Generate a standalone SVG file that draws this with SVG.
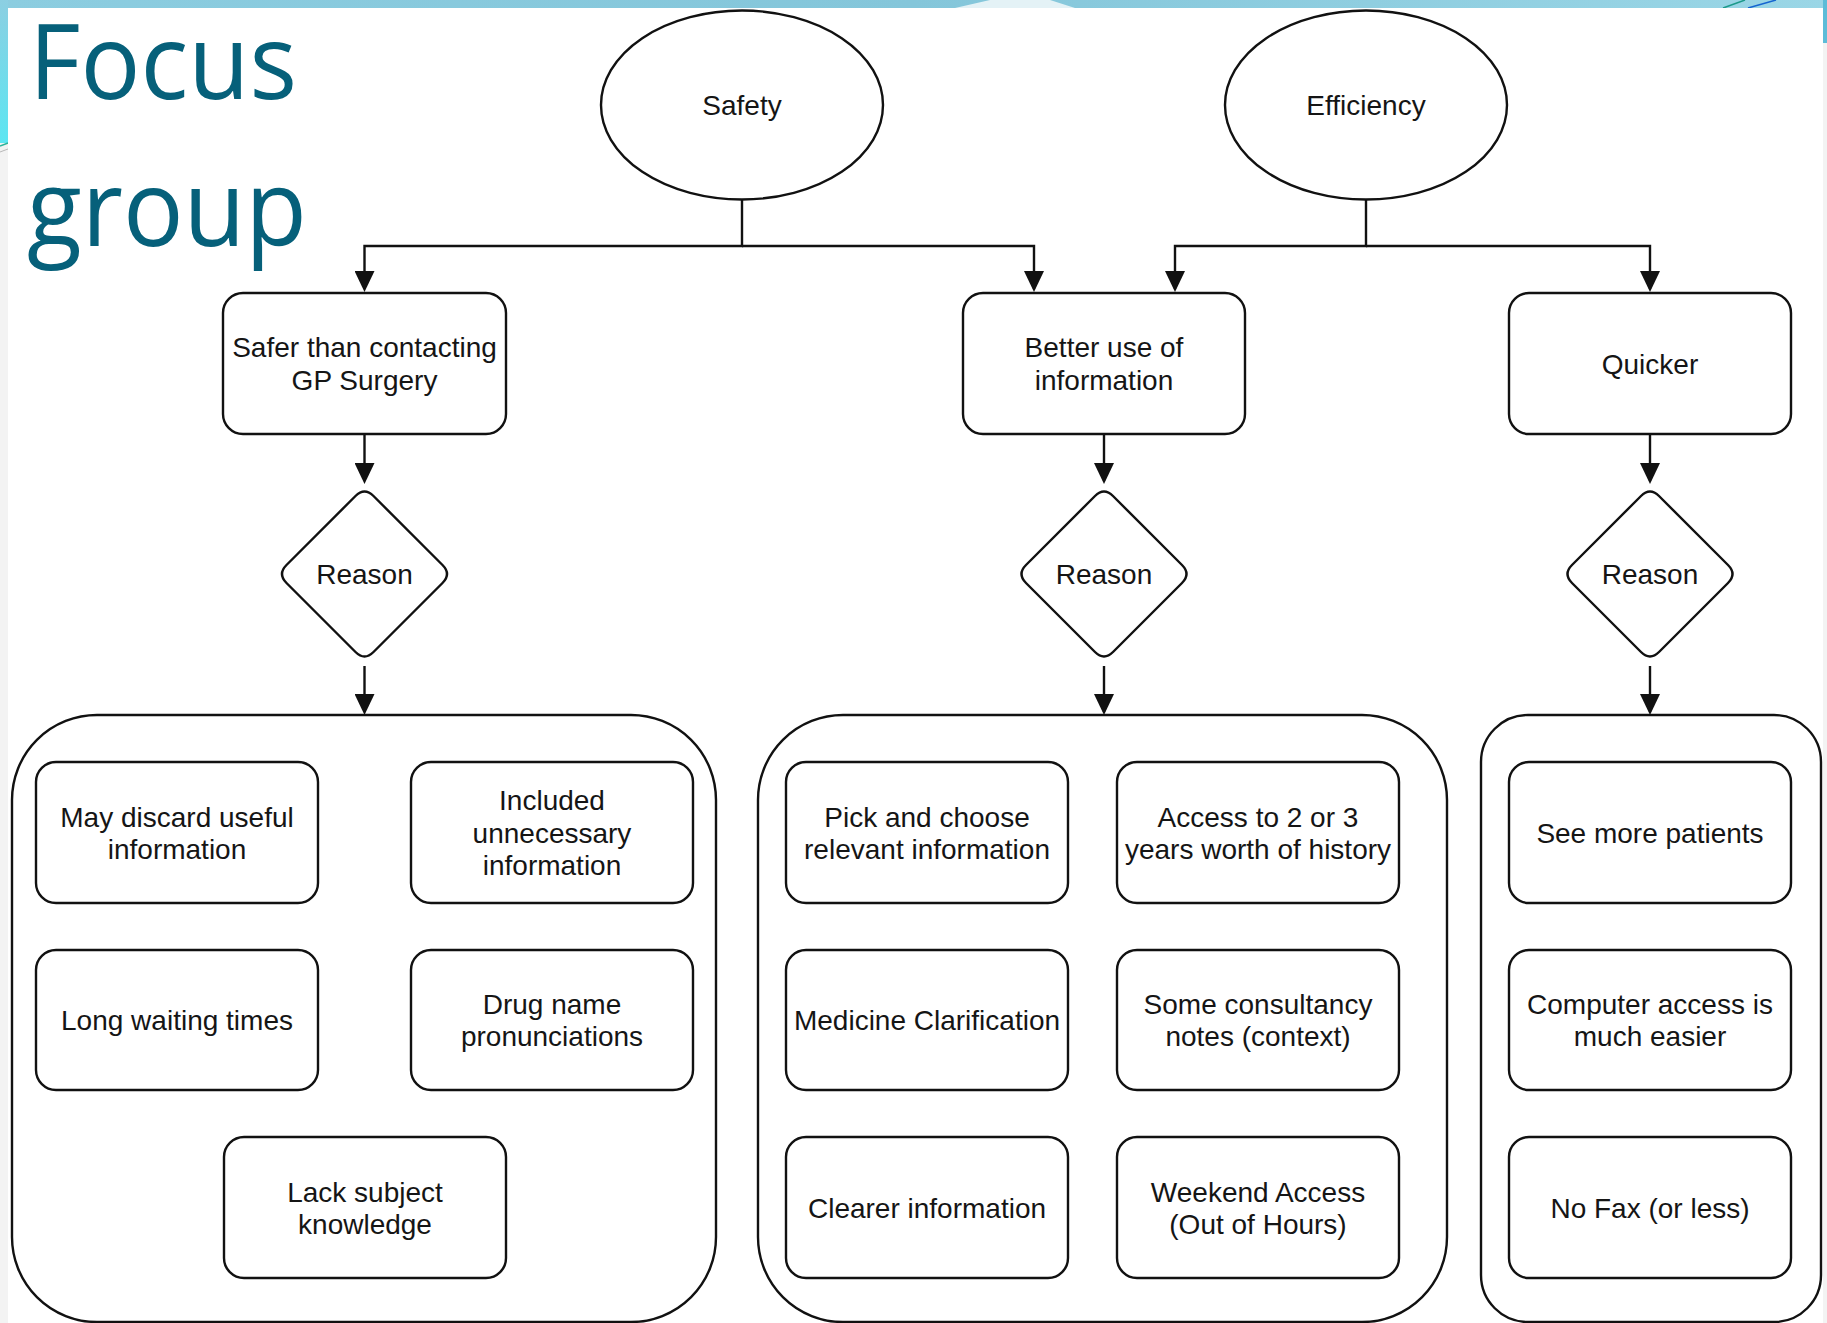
<svg xmlns="http://www.w3.org/2000/svg" width="1827" height="1323" viewBox="0 0 1827 1323">
<defs>
<style>
.box{fill:#fff;stroke:#111;stroke-width:2.4}
.cont{fill:#fff;stroke:#111;stroke-width:2.4}
.t{font-family:"Liberation Sans",Arial,Helvetica,sans-serif;font-size:28px;fill:#151515;text-anchor:middle}
.edge{fill:none;stroke:#111;stroke-width:2.4}
.title{font-family:"Open Sans","Noto Sans",sans-serif;fill:#06607a}
</style>
<marker id="arr" markerUnits="userSpaceOnUse" markerWidth="22" markerHeight="20" refX="18" refY="10" orient="auto">
<path d="M0,0 L21,10 L0,20 Z" fill="#111"/>
</marker>
<linearGradient id="leftg" x1="0" y1="0" x2="0" y2="1">
<stop offset="0" stop-color="#8ccfe2"/>
<stop offset="1" stop-color="#5ce6f2"/>
</linearGradient>
<linearGradient id="topg" x1="0" y1="0" x2="1" y2="0">
<stop offset="0" stop-color="#8ccde0"/>
<stop offset="0.5" stop-color="#84c6da"/>
<stop offset="1" stop-color="#9ad6e6"/>
</linearGradient>
</defs>

<!-- slide background -->
<rect x="0" y="0" width="1827" height="1323" fill="#f3f3f3"/>
<rect x="0" y="0" width="1827" height="8" fill="url(#topg)"/>
<polygon points="955,8 990,0 1050,0 1075,8" fill="#e4f2f6"/>
<rect x="0" y="0" width="8" height="143" fill="url(#leftg)"/>
<line x1="0" y1="146" x2="8" y2="143" stroke="#2bb39a" stroke-width="1.5"/>
<line x1="0" y1="152" x2="8" y2="149" stroke="#b8b8b8" stroke-width="1"/>
<rect x="1823" y="0" width="4" height="43" fill="#5cbcd8"/>
<line x1="1723" y1="8" x2="1745" y2="0" stroke="#1c9a8a" stroke-width="1.5"/>
<line x1="1748" y1="8" x2="1776" y2="0" stroke="#1565d0" stroke-width="1.5"/>
<rect x="8" y="8" width="1815" height="1315" fill="#fff"/>

<!-- title -->
<text class="title" x="29" y="99" font-size="104" textLength="268" lengthAdjust="spacingAndGlyphs">Focus</text>
<text class="title" x="27" y="246" font-size="106" textLength="280" lengthAdjust="spacingAndGlyphs">group</text>

<!-- containers -->
<g id="group-safety">
<rect class="cont" x="12" y="715" width="704" height="607" rx="85" ry="85"/>
</g>
<g id="group-better">
<rect class="cont" x="758" y="715" width="689" height="607" rx="85" ry="85"/>
</g>
<g id="group-quicker">
<rect class="cont" x="1481" y="715" width="340" height="607" rx="47" ry="47"/>
</g>

<!-- connectors -->
<g id="connectors">
<path class="edge" d="M742,199 V246 H364.5 V289" marker-end="url(#arr)"/>
<path class="edge" d="M742,246 H1034 V289" marker-end="url(#arr)"/>
<path class="edge" d="M1366,199 V246 H1175 V289" marker-end="url(#arr)"/>
<path class="edge" d="M1366,246 H1650 V289" marker-end="url(#arr)"/>
<path class="edge" d="M364.5,434 V481" marker-end="url(#arr)"/>
<path class="edge" d="M1104,434 V481" marker-end="url(#arr)"/>
<path class="edge" d="M1650,434 V481" marker-end="url(#arr)"/>
<path class="edge" d="M364.5,666 V712" marker-end="url(#arr)"/>
<path class="edge" d="M1104,666 V712" marker-end="url(#arr)"/>
<path class="edge" d="M1650,666 V712" marker-end="url(#arr)"/>
</g>

<!-- top nodes -->
<g id="safety">
<ellipse class="box" cx="742" cy="105" rx="141" ry="94.5"/>
<text class="t" x="742" y="115">Safety</text>
</g>
<g id="efficiency">
<ellipse class="box" cx="1366" cy="105" rx="141" ry="94.5"/>
<text class="t" x="1366" y="115">Efficiency</text>
</g>

<!-- second row -->
<g id="safer">
<rect class="box" x="223" y="293" width="283" height="141" rx="20" ry="20"/>
<text class="t" x="364.5" y="357">Safer than contacting</text>
<text class="t" x="364.5" y="389.5">GP Surgery</text>
</g>
<g id="better-use">
<rect class="box" x="963" y="293" width="282" height="141" rx="20" ry="20"/>
<text class="t" x="1104" y="357">Better use of</text>
<text class="t" x="1104" y="389.5">information</text>
</g>
<g id="quicker">
<rect class="box" x="1509" y="293" width="282" height="141" rx="20" ry="20"/>
<text class="t" x="1650" y="373.5">Quicker</text>
</g>

<!-- diamonds -->
<g id="reason-1">
<path class="box" d="M355.5,496 Q364.5,487 373.5,496 L442.5,565 Q451.5,574 442.5,583 L373.5,652 Q364.5,661 355.5,652 L286.5,583 Q277.5,574 286.5,565 Z"/>
<text class="t" x="364.5" y="584">Reason</text>
</g>
<g id="reason-2">
<path class="box" d="M1095,496 Q1104,487 1113,496 L1182,565 Q1191,574 1182,583 L1113,652 Q1104,661 1095,652 L1026,583 Q1017,574 1026,565 Z"/>
<text class="t" x="1104" y="584">Reason</text>
</g>
<g id="reason-3">
<path class="box" d="M1641,496 Q1650,487 1659,496 L1728,565 Q1737,574 1728,583 L1659,652 Q1650,661 1641,652 L1572,583 Q1563,574 1572,565 Z"/>
<text class="t" x="1650" y="584">Reason</text>
</g>

<!-- group 1 items -->
<g id="may-discard">
<rect class="box" x="36" y="762" width="282" height="141" rx="20" ry="20"/>
<text class="t" x="177" y="826.5">May discard useful</text>
<text class="t" x="177" y="858.5">information</text>
</g>
<g id="included">
<rect class="box" x="411" y="762" width="282" height="141" rx="20" ry="20"/>
<text class="t" x="552" y="810">Included</text>
<text class="t" x="552" y="842.5">unnecessary</text>
<text class="t" x="552" y="875">information</text>
</g>
<g id="long-waiting">
<rect class="box" x="36" y="950" width="282" height="140" rx="20" ry="20"/>
<text class="t" x="177" y="1030">Long waiting times</text>
</g>
<g id="drug-name">
<rect class="box" x="411" y="950" width="282" height="140" rx="20" ry="20"/>
<text class="t" x="552" y="1014">Drug name</text>
<text class="t" x="552" y="1046">pronunciations</text>
</g>
<g id="lack-subject">
<rect class="box" x="224" y="1137" width="282" height="141" rx="20" ry="20"/>
<text class="t" x="365" y="1201.5">Lack subject</text>
<text class="t" x="365" y="1233.5">knowledge</text>
</g>

<!-- group 2 items -->
<g id="pick-choose">
<rect class="box" x="786" y="762" width="282" height="141" rx="20" ry="20"/>
<text class="t" x="927" y="826.5">Pick and choose</text>
<text class="t" x="927" y="858.5">relevant information</text>
</g>
<g id="access-history">
<rect class="box" x="1117" y="762" width="282" height="141" rx="20" ry="20"/>
<text class="t" x="1258" y="826.5">Access to 2 or 3</text>
<text class="t" x="1258" y="858.5">years worth of history</text>
</g>
<g id="medicine">
<rect class="box" x="786" y="950" width="282" height="140" rx="20" ry="20"/>
<text class="t" x="927" y="1030">Medicine Clarification</text>
</g>
<g id="consultancy">
<rect class="box" x="1117" y="950" width="282" height="140" rx="20" ry="20"/>
<text class="t" x="1258" y="1014">Some consultancy</text>
<text class="t" x="1258" y="1046">notes (context)</text>
</g>
<g id="clearer">
<rect class="box" x="786" y="1137" width="282" height="141" rx="20" ry="20"/>
<text class="t" x="927" y="1217.5">Clearer information</text>
</g>
<g id="weekend">
<rect class="box" x="1117" y="1137" width="282" height="141" rx="20" ry="20"/>
<text class="t" x="1258" y="1201.5">Weekend Access</text>
<text class="t" x="1258" y="1233.5">(Out of Hours)</text>
</g>

<!-- group 3 items -->
<g id="see-more">
<rect class="box" x="1509" y="762" width="282" height="141" rx="20" ry="20"/>
<text class="t" x="1650" y="842.5">See more patients</text>
</g>
<g id="computer-access">
<rect class="box" x="1509" y="950" width="282" height="140" rx="20" ry="20"/>
<text class="t" x="1650" y="1014">Computer access is</text>
<text class="t" x="1650" y="1046">much easier</text>
</g>
<g id="no-fax">
<rect class="box" x="1509" y="1137" width="282" height="141" rx="20" ry="20"/>
<text class="t" x="1650" y="1217.5">No Fax (or less)</text>
</g>
</svg>
